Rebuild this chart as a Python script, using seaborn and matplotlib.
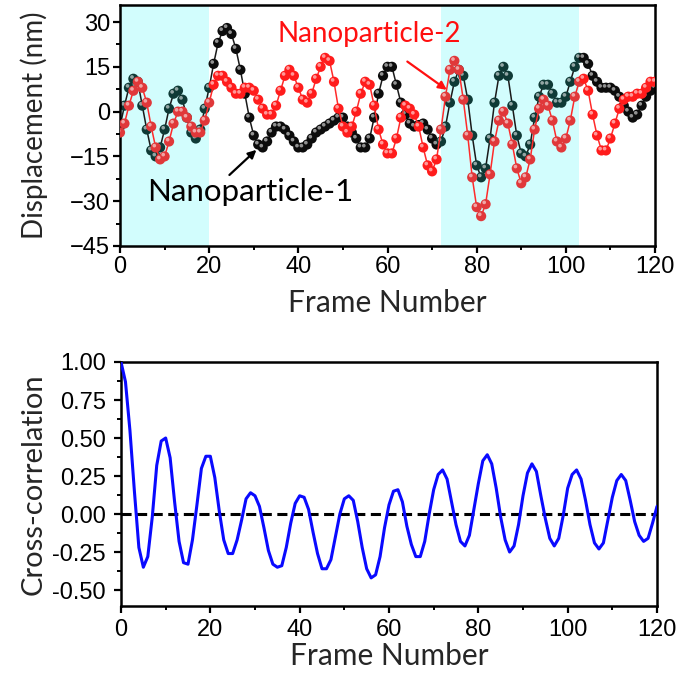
import matplotlib
matplotlib.use("Agg")
import matplotlib.pyplot as plt
import matplotlib.transforms as mtransforms
from matplotlib.ticker import MultipleLocator, FormatStrFormatter
import pandas as pd
import seaborn as sns

# ---- data ---------------------------------------------------------------
frames = list(range(121))

np1_disp = [
    -5, 2, 8, 11, 10, 2, -6, -13, -15, -12,
    -6, 1, 6, 7, 4, -2, -7, -9, -6, 1,
    8, 16, 23, 27, 28, 26, 21, 14, 6, -2,
    -8, -11, -12, -10, -7, -5, -5, -6, -8, -10,
    -12, -12, -11, -9, -7, -6, -5, -4, -3, -2,
    -2, -5, -7, -9, -12, -12, -9, -2, 6, 12,
    15, 15, 9, 3, -1, -4, -5, -4.5, -4, -6,
    -9, -11, -10, -5, 3, 10, 14, 12, 4, -8,
    -18, -22, -19, -9, 3, 12, 15, 12, 2, -8,
    -14, -15, -11, -2, 5, 9, 9, 6, 3, 3,
    5, 10, 15, 18, 18, 16, 12, 10, 8, 8,
    8, 7, 5, 2, 0, -2, -1, 2, 5, 7,
    8,
]

np2_disp = [
    -7, -4, 2, 7, 10, 8, 3, -5, -12, -16,
    -15, -10, -4, 0, 0, -2, -5, -7, -7, -3,
    3, 9, 12, 12, 10, 8, 6, 6, 8, 8,
    7, 4, 1, -1, -1, 2, 7, 12, 14, 12,
    8, 4, 3, 6, 11, 15, 18, 17, 10, 1,
    -5, -7, -5, 0, 6, 10, 9, 2, -6, -11,
    -14, -14, -9, -2, 2, 1, -1, -5, -12, -18,
    -20, -16, -6, 5, 14, 17, 14, 4, -8, -22,
    -32, -35, -31, -21, -10, -3, 0, -4, -11, -19,
    -24, -22, -16, -6, 1, 4, 2, -3, -10, -12,
    -9, -3, 5, 10, 11, 7, -1, -8, -13, -13,
    -9, -4, 1, 4, 5, 5, 6, 6, 8, 10,
    10,
]

cross_corr = [
    1.00, 0.87, 0.55, 0.15, -0.22, -0.35, -0.28, -0.02, 0.32, 0.48,
    0.50, 0.37, 0.08, -0.18, -0.32, -0.33, -0.17, 0.06, 0.30, 0.38,
    0.38, 0.24, 0.02, -0.17, -0.26, -0.26, -0.17, -0.04, 0.10, 0.14,
    0.12, 0.05, -0.09, -0.24, -0.33, -0.35, -0.34, -0.22, -0.06, 0.07,
    0.12, 0.11, 0.03, -0.12, -0.26, -0.36, -0.36, -0.30, -0.15, 0.00,
    0.10, 0.12, 0.09, -0.05, -0.22, -0.36, -0.42, -0.40, -0.28, -0.09,
    0.06, 0.15, 0.16, 0.08, -0.08, -0.20, -0.28, -0.28, -0.18, 0.00,
    0.16, 0.26, 0.29, 0.23, 0.08, -0.07, -0.18, -0.21, -0.14, 0.03,
    0.20, 0.35, 0.39, 0.33, 0.17, -0.02, -0.17, -0.25, -0.21, -0.07,
    0.12, 0.27, 0.33, 0.28, 0.12, -0.03, -0.16, -0.21, -0.16, -0.01,
    0.17, 0.26, 0.29, 0.23, 0.09, -0.07, -0.19, -0.23, -0.19, -0.04,
    0.11, 0.22, 0.26, 0.22, 0.09, -0.05, -0.14, -0.18, -0.16, -0.06,
    0.05,
]

shaded_spans = [(0, 20), (72, 103)]

disp = pd.DataFrame({"frame": frames, "np1": np1_disp, "np2": np2_disp})
corr = pd.DataFrame({"frame": frames, "corr": cross_corr})

# ---- style --------------------------------------------------------------
sns.set_theme(style="ticks")
plt.rcParams["font.family"] = ["Liberation Sans", "DejaVu Sans"]
plt.rcParams["axes.linewidth"] = 1.8
LABEL_FONT = ["Lato", "DejaVu Sans"]
TICK_SIZE = 17

fig = plt.figure(figsize=(6.81, 6.81), dpi=100)
W = H = 681.0
ax1 = fig.add_axes([120 / W, 1 - 246 / H, 535 / W, 241 / H])
ax2 = fig.add_axes([121 / W, 1 - 606 / H, 536 / W, 244 / H])


def in_shade(f):
    return any(a <= f <= b for a, b in shaded_spans)


def ball_series(ax, col, line_color, ball_out, ball_in, z):
    sns.lineplot(data=disp, x="frame", y=col, ax=ax, color=line_color,
                 linewidth=1.1, zorder=z, legend=False)
    colors = [ball_in if in_shade(f) else ball_out for f in disp["frame"]]
    ax.scatter(disp["frame"], disp[col], s=54, c=colors, edgecolors="none",
               zorder=z + 0.1)
    # small specular highlight on each ball
    hl = mtransforms.offset_copy(ax.transData, fig=fig, x=-1.0, y=1.3,
                                 units="points")
    ax.scatter(disp["frame"], disp[col], s=7, c="white", alpha=0.55,
               edgecolors="none", transform=hl, zorder=z + 0.2)


# ---- top panel: displacement --------------------------------------------
for a, b in shaded_spans:
    ax1.axvspan(a, b, color="#d2fdfd", zorder=0, lw=0)

ball_series(ax1, "np1", "#1a1a1a", "#0c0c0c", "#0f3a36", 2)
ball_series(ax1, "np2", "#ff2a2a", "#ff1c1c", "#e0383a", 3)

ax1.set_xlim(0, 120)
ax1.set_ylim(-45, 35.7)
ax1.xaxis.set_major_locator(MultipleLocator(20))
ax1.xaxis.set_minor_locator(MultipleLocator(10))
ax1.yaxis.set_major_locator(MultipleLocator(15))
ax1.yaxis.set_minor_locator(MultipleLocator(7.5))
ax1.set_xlabel("Frame Number", fontsize=21.5, family=LABEL_FONT, labelpad=8)
ax1.set_ylabel("Displacement (nm)", fontsize=20, family=LABEL_FONT,
               labelpad=16)

ax1.annotate("Nanoparticle-2", xy=(73.3, 7.3), xytext=(55.8, 26),
             color="#ff1010", fontsize=20, family=LABEL_FONT,
             ha="center", va="center", zorder=6,
             arrowprops=dict(arrowstyle="-|>", color="#ff1010", lw=1.6,
                             mutation_scale=12, shrinkA=14, shrinkB=0))
ax1.annotate("Nanoparticle-1", xy=(30.6, -12.8), xytext=(29.3, -27),
             color="black", fontsize=22.5, family=LABEL_FONT,
             ha="center", va="center", zorder=6,
             arrowprops=dict(arrowstyle="-|>", color="black", lw=1.6,
                             mutation_scale=12, shrinkA=0, shrinkB=0,
                             relpos=(0.38, 1.0)))

# ---- bottom panel: cross-correlation ------------------------------------
sns.lineplot(data=corr, x="frame", y="corr", ax=ax2, color="#0a0aff",
             linewidth=2.2, zorder=3, legend=False)
ax2.axhline(0, color="black", lw=2.2, ls=(0, (3.3, 1.8)), zorder=2)
ax2.set_xlim(0, 120)
ax2.set_ylim(-0.605, 1.0)
ax2.xaxis.set_major_locator(MultipleLocator(20))
ax2.xaxis.set_minor_locator(MultipleLocator(10))
ax2.yaxis.set_major_locator(MultipleLocator(0.25))
ax2.yaxis.set_minor_locator(MultipleLocator(0.125))
ax2.yaxis.set_major_formatter(FormatStrFormatter("%.2f"))
ax2.set_xlabel("Frame Number", fontsize=21.5, family=LABEL_FONT, labelpad=1)
ax2.set_ylabel("Cross-correlation", fontsize=21, family=LABEL_FONT,
               labelpad=4)

for ax in (ax1, ax2):
    for s in ax.spines.values():
        s.set_visible(True)
        s.set_color("black")
        s.set_linewidth(1.8)
    ax.tick_params(which="major", direction="out", length=5, width=1.6,
                   labelsize=TICK_SIZE, color="black", labelcolor="black",
                   pad=2)
    ax.tick_params(which="minor", direction="out", length=3, width=1.4,
                   color="black")
    ax.grid(False)

ax2.tick_params(axis="x", which="major", pad=4)
ax2.tick_params(axis="y", which="major", pad=6)

fig.savefig("out.png", dpi=100, facecolor="white")
